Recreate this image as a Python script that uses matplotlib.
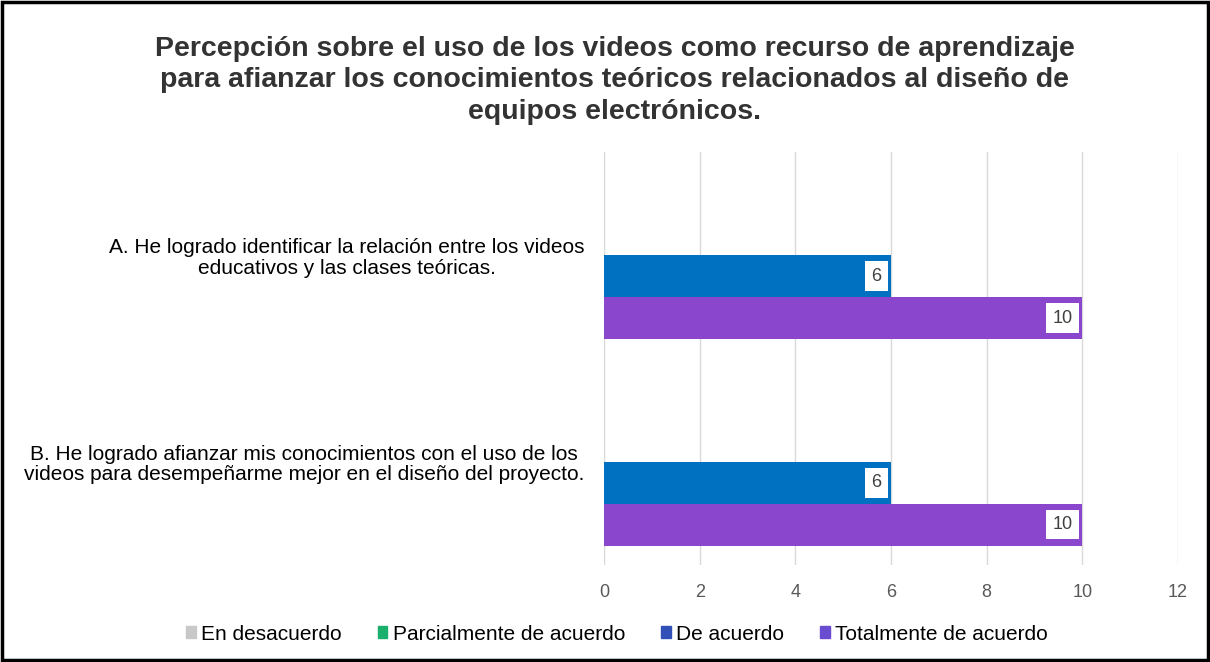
import matplotlib.pyplot as plt
import numpy as np

plt.rcParams['font.family'] = ['Liberation Sans', 'DejaVu Sans']

# Datos del gráfico
preguntas = ['A. He logrado identificar la relación entre los videos\neducativos y las clases teóricas.',
             'B. He logrado afianzar mis conocimientos con el uso de los\nvideos para desempeñarme mejor en el diseño del proyecto.']
series = ['En desacuerdo', 'Parcialmente de acuerdo', 'De acuerdo', 'Totalmente de acuerdo']
en_desacuerdo = [0, 0]
parcialmente = [0, 0]
de_acuerdo = [6, 6]
totalmente = [10, 10]
valores = [en_desacuerdo, parcialmente, de_acuerdo, totalmente]
colores = ['#BFBFBF', '#1AAF6C', '#0070C0', '#8A46CC']
colores_leyenda = ['#C8C8C8', '#1AAF6C', '#3050B8', '#6A4CD0']

fig = plt.figure(figsize=(12.1, 6.62), dpi=100)
ax = fig.add_axes([604 / 1210, 1 - 565 / 662, 574 / 1210, 413 / 662])

y = np.arange(len(preguntas))
h = 0.203
for i, (nombre, vals, c) in enumerate(zip(series, valores, colores)):
    pos = y + (i - 1.5) * h
    bars = ax.barh(pos, vals, height=h, color=c, label=nombre)
    for b, v in zip(bars, vals):
        if v > 0:
            ax.text(v - 0.2, b.get_y() + b.get_height() / 2, str(v), ha='right', va='center',
                    fontsize=13, color='#404040',
                    bbox=dict(boxstyle='square,pad=0.35', fc='white', ec='none'))

ax.set_xlim(0, 12)
ax.set_xticks(range(0, 13, 2))
ax.set_ylim(1.5, -0.5)
ax.set_yticks(y)
ax.set_yticklabels(preguntas, fontsize=15, ha='right', multialignment='center',
                   linespacing=1.1)
ax.tick_params(axis='y', length=0, pad=14)
ax.tick_params(axis='x', length=0, labelsize=13, labelcolor='#595959', pad=14)
ax.grid(axis='x', color='#D9D9D9', linewidth=1)
ax.set_axisbelow(True)
for s in ax.spines.values():
    s.set_visible(False)

fig.suptitle('Percepción sobre el uso de los videos como recurso de aprendizaje\n'
             'para afianzar los conocimientos teóricos relacionados al diseño de\n'
             'equipos electrónicos.', x=0.508, y=0.946, fontsize=20.5, fontweight='bold',
             color='#333333', linespacing=1.27)

handles = [plt.Rectangle((0, 0), 1, 1, color=c) for c in colores_leyenda]
fig.legend(handles, series, loc='center', bbox_to_anchor=(0.51, 1 - 634 / 662), ncol=4,
           frameon=False, fontsize=15, handlelength=0.45, handleheight=0.45,
           handletextpad=0.25, columnspacing=1.75)

# borde negro alrededor de la figura
fig.patches.append(plt.Rectangle((0.002, 0.003), 0.996, 0.994, transform=fig.transFigure,
                                 fill=False, ec='black', lw=2.5))

plt.savefig('out.png', dpi=100)
